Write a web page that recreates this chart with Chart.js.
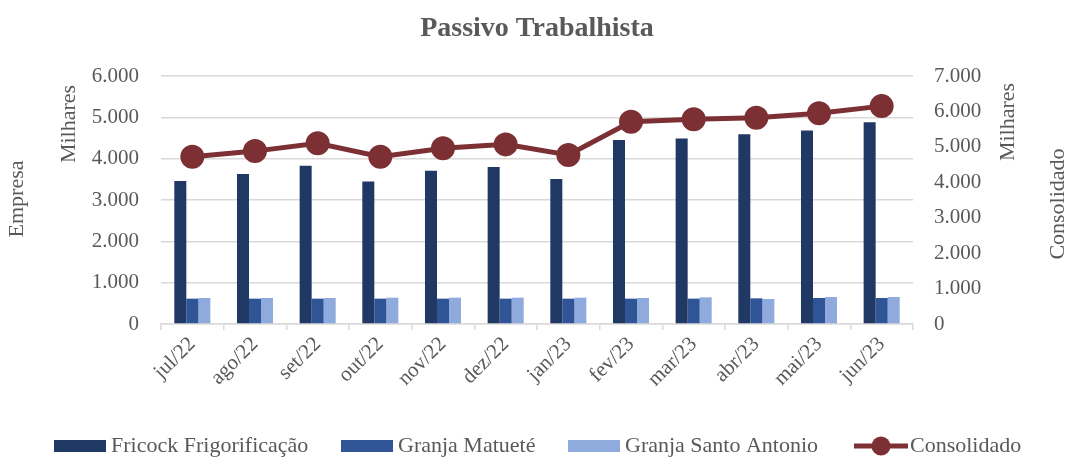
<!DOCTYPE html>
<html>
<head>
<meta charset="utf-8">
<script src="https://cdn.jsdelivr.net/npm/chart.js@4"></script>
<style>
html,body{margin:0;padding:0;background:#fff;}
#wrap{width:1066px;height:458px;}
</style>
</head>
<body>
<div id="wrap"><canvas id="c" width="1066" height="458"></canvas></div>
<script>
const categories = ['jul/22','ago/22','set/22','out/22','nov/22','dez/22','jan/23','fev/23','mar/23','abr/23','mai/23','jun/23'];
const fricock = [3460, 3630, 3830, 3450, 3710, 3800, 3510, 4450, 4490, 4590, 4680, 4880];
const matuete = [613, 613, 613, 613, 613, 613, 613, 613, 613, 621, 629, 629];
const santoAntonio = [629, 629, 629, 637, 637, 637, 637, 629, 645, 605, 653, 653];
const consolidado = [4720, 4880, 5100, 4720, 4960, 5070, 4770, 5710, 5780, 5820, 5950, 6150];
const seriesNames = ['Fricock Frigorificação', 'Granja Matueté', 'Granja Santo Antonio', 'Consolidado'];
const titleText = 'Passivo Trabalhista';
const leftTitle = 'Empresa', rightTitle = 'Consolidado', unitsLabel = 'Milhares';

const FONT = "'Liberation Serif', 'Times New Roman', serif";
const TXT = '#595959';
const GRID = '#D9D9D9';
const colors = ['#203864', '#2F5597', '#8FAADC', '#7D3034'];

function fmt(v){ return String(v).replace(/\B(?=(\d{3})+(?!\d))/g, '.'); }

const decor = {
  id: 'decor',
  afterDraw(chart){
    const ctx = chart.ctx;
    ctx.save();
    ctx.fillStyle = TXT;
    // title
    ctx.font = 'bold 28px ' + FONT;
    ctx.textAlign = 'center';
    ctx.textBaseline = 'middle';
    ctx.fillText(titleText, 537, 29);
    // rotated axis titles
    ctx.font = '22px ' + FONT;
    const rot = (t, x, y) => { ctx.save(); ctx.translate(x, y); ctx.rotate(-Math.PI/2); ctx.textAlign='center'; ctx.textBaseline='middle'; ctx.fillText(t, 0, 0); ctx.restore(); };
    rot(leftTitle, 17, 199);
    rot(unitsLabel, 69, 124);
    rot(unitsLabel, 1008, 122);
    rot(rightTitle, 1058, 204);
    // legend in series order
    const ly = 446;
    const starts = [54, 341, 568, 854];
    ctx.font = '22px ' + FONT;
    ctx.textAlign = 'left';
    ctx.textBaseline = 'middle';
    seriesNames.forEach((name, i) => {
      const ds = chart.data.datasets.find(d => d.label === name);
      const x = starts[i];
      if (ds.type === 'line') {
        ctx.strokeStyle = ds.borderColor;
        ctx.lineWidth = 5;
        ctx.beginPath(); ctx.moveTo(x, ly); ctx.lineTo(x + 54, ly); ctx.stroke();
        ctx.fillStyle = ds.pointBackgroundColor;
        ctx.beginPath(); ctx.arc(x + 27, ly, 9.5, 0, Math.PI*2); ctx.fill();
        ctx.fillStyle = TXT;
        ctx.fillText(ds.label, x + 56, ly);
      } else {
        ctx.fillStyle = ds.backgroundColor;
        ctx.fillRect(x, ly - 6, 52, 12);
        ctx.fillStyle = TXT;
        ctx.fillText(ds.label, x + 57, ly);
      }
    });
    ctx.restore();
  }
};

new Chart(document.getElementById('c'), {
  data: {
    labels: categories,
    datasets: [
      { type: 'line', label: seriesNames[3], data: consolidado, yAxisID: 'y1', borderColor: colors[3], backgroundColor: colors[3], pointBackgroundColor: colors[3], pointBorderColor: colors[3], borderWidth: 5, pointRadius: 9.5, pointHoverRadius: 9.5, tension: 0, order: 0 },
      { type: 'bar', label: seriesNames[0], data: fricock, yAxisID: 'y', backgroundColor: colors[0], categoryPercentage: 0.575, barPercentage: 1, order: 1 },
      { type: 'bar', label: seriesNames[1], data: matuete, yAxisID: 'y', backgroundColor: colors[1], categoryPercentage: 0.575, barPercentage: 1, order: 1 },
      { type: 'bar', label: seriesNames[2], data: santoAntonio, yAxisID: 'y', backgroundColor: colors[2], categoryPercentage: 0.575, barPercentage: 1, order: 1 }
    ]
  },
  options: {
    responsive: false,
    animation: false,
    devicePixelRatio: 1,
    layout: { padding: { top: 76, left: 0, right: 0, bottom: 0 } },
    plugins: { legend: { display: false }, title: { display: false }, tooltip: { enabled: false } },
    scales: {
      x: {
        offset: true,
        grid: { drawOnChartArea: false, drawTicks: true, tickLength: 6, color: GRID, lineWidth: 1.5, offset: true },
        border: { color: GRID, width: 1.5 },
        ticks: { color: TXT, font: { family: FONT, size: 21 }, minRotation: 45, maxRotation: 45, padding: 2 },
        afterFit(s){ s.height = 134; }
      },
      y: {
        position: 'left', min: 0, max: 6000,
        ticks: { stepSize: 1000, color: TXT, font: { family: FONT, size: 21 }, padding: 22, callback: v => fmt(v) },
        grid: { color: GRID, lineWidth: 1.5, drawTicks: false },
        border: { display: false },
        afterFit(s){ s.width = 161; }
      },
      y1: {
        position: 'right', min: 0, max: 7000,
        ticks: { stepSize: 1000, color: TXT, font: { family: FONT, size: 21 }, padding: 21, callback: v => fmt(v) },
        grid: { drawOnChartArea: false, drawTicks: false },
        border: { display: false },
        afterFit(s){ s.width = 153; }
      }
    }
  },
  plugins: [decor]
});
</script>
</body>
</html>
